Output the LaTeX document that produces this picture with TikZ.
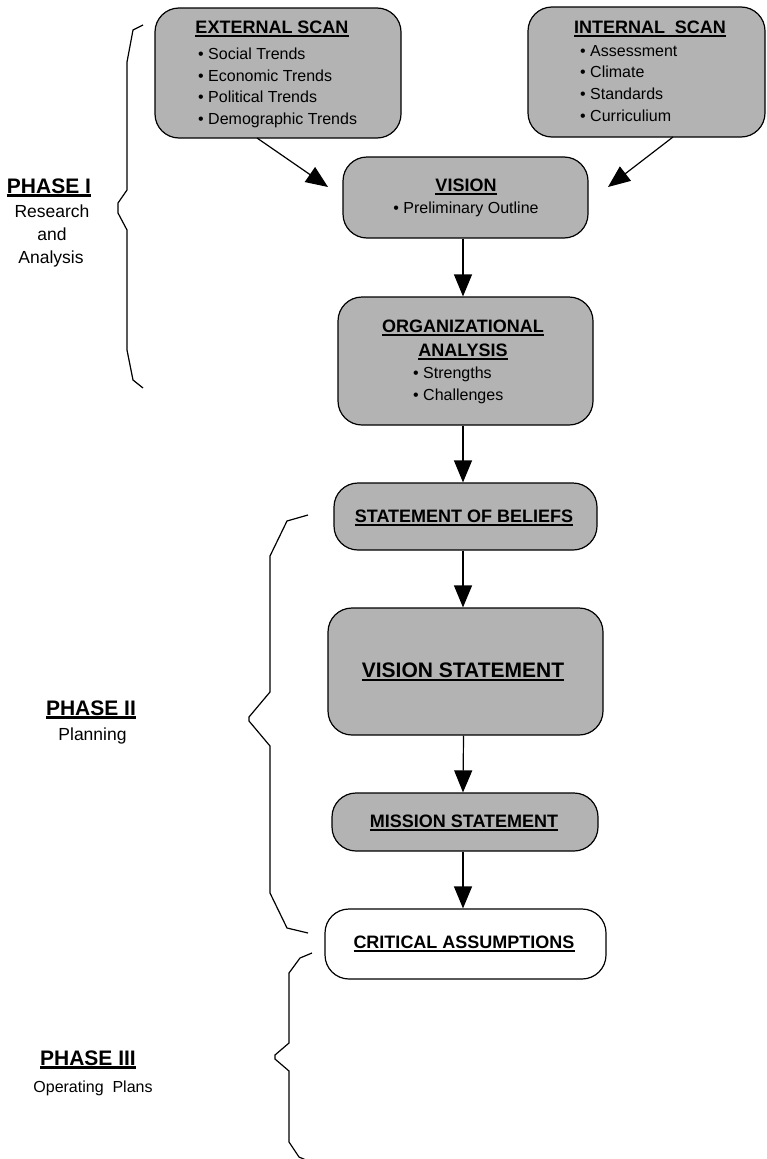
\documentclass[tikz,border=0pt]{standalone}
\usepackage{fontspec}
\setmainfont{Liberation Sans}
\usetikzlibrary{arrows.meta}
\definecolor{boxgray}{RGB}{179,179,179}
\newcommand\ulbox[2][1.7pt]{\leavevmode\setbox0=\hbox{#2}\rlap{\rule[-3.6pt]{\wd0}{#1}}\box0}
\begin{document}
\begin{tikzpicture}[x=1pt,y=-1pt,
  box/.style={draw=black, line width=1.2pt, fill=boxgray, rounded corners=24pt, inner sep=0pt},
  wbox/.style={box, fill=white},
  ttl/.style={inner sep=0pt, anchor=base, font=\bfseries\fontsize{18}{21}\selectfont},
  big/.style={inner sep=0pt, anchor=base, font=\bfseries\fontsize{21}{24}\selectfont},
  item/.style={inner sep=0pt, anchor=base west, font=\fontsize{16}{19}\selectfont},
  citem/.style={inner sep=0pt, anchor=base, font=\fontsize{16}{19}\selectfont},
  ptext/.style={inner sep=0pt, anchor=base, font=\fontsize{17.5}{20}\selectfont},
  arr/.style={line width=1.2pt, -{Triangle[length=22pt,width=18pt]}},
  brace/.style={line width=1.2pt, line join=miter}]
\useasboundingbox (0,0) rectangle (767,1159);

% boxes
\node[box, minimum width=246pt, minimum height=130pt] (ext) at (278,73) {};
\node[box, minimum width=237pt, minimum height=130pt] (int) at (646.5,72) {};
\node[box, minimum width=245pt, minimum height=81pt] (vis) at (465.5,197.5) {};
\node[box, minimum width=255pt, minimum height=128pt] (org) at (465.5,361) {};
\node[box, minimum width=263pt, minimum height=67pt] (bel) at (465.5,516.5) {};
\node[box, minimum width=275pt, minimum height=127pt] (vs) at (465.5,671.5) {};
\node[box, minimum width=266pt, minimum height=58pt] (mis) at (465,822) {};
\node[wbox, minimum width=281pt, minimum height=70pt] (crit) at (465.5,944) {};

% texts
\node[ttl] (extT) at (272,33) {\ulbox{EXTERNAL SCAN}};
\node[item] (e1) at (198,59) {• Social Trends};
\node[item] (e2) at (198,81) {• Economic Trends};
\node[item] (e3) at (198,102.7) {• Political Trends};
\node[item] (e4) at (198,124) {• Demographic Trends};

\node[ttl] (intT) at (650,33) {\ulbox{INTERNAL\ \ SCAN}};
\node[item] (i1) at (580,56) {• Assessment};
\node[item] (i2) at (580,77.5) {• Climate};
\node[item] (i3) at (580,99) {• Standards};
\node[item] (i4) at (580,121) {• Curriculium};

\node[ttl] (visT) at (466,191) {\ulbox{VISION}};
\node[citem] (v1) at (466,213) {• Preliminary Outline};

\node[ttl] (orgT1) at (463,332) {\ulbox{ORGANIZATIONAL}};
\node[ttl] (orgT2) at (463,356) {\ulbox{ANALYSIS}};
\node[item] (o1) at (413,378) {• Strengths};
\node[item] (o2) at (413,400) {• Challenges};

\node[ttl] (belT) at (464,522) {\ulbox{STATEMENT OF BELIEFS}};
\node[big] (vsT) at (463,677) {\ulbox[2pt]{VISION STATEMENT}};
\node[ttl] (misT) at (464,827) {\ulbox{MISSION STATEMENT}};
\node[ttl] (critT) at (464,948) {\ulbox{CRITICAL ASSUMPTIONS}};

% phase labels
\node[big] (p1) at (49,193) {\ulbox[2.2pt]{PHASE I}};
\node[ptext] (p1a) at (52,217) {Research};
\node[ptext] (p1b) at (52,240) {and};
\node[ptext] (p1c) at (51,263) {Analysis};

\node[big] (p2) at (91,715) {\ulbox[2.2pt]{PHASE II}};
\node[ptext] (p2a) at (92.5,740) {Planning};

\node[big] (p3) at (88,1065) {\ulbox[2.2pt]{PHASE III}};
\node[citem] (p3a) at (93,1092) {Operating\ \ Plans};

% connectors
\coordinate (extout) at (257,138);
\coordinate (visin1) at (328,187);
\coordinate (intout) at (673,137);
\coordinate (visin2) at (608,187);
\draw[arr] (extout) -- (visin1);
\draw[arr] (intout) -- (visin2);
\draw[arr] ([xshift=-2.5pt]vis.south) -- ([xshift=-2.5pt]org.north);
\draw[arr] ([xshift=-2.5pt]org.south) -- ([xshift=-2.5pt]bel.north);
\draw[arr] ([xshift=-2.5pt]bel.south) -- ([xshift=-2.5pt]vs.north);
\draw[arr] ([xshift=-2pt]vs.south) -- ([xshift=-2pt]mis.north);
\draw[arr] ([xshift=-2pt]mis.south) -- ([xshift=-2.5pt]crit.north);

% braces
\draw[brace] (143,25) -- (133,30) -- (127,62) -- (127,190) -- (118,203) -- (118,213) -- (127,230) -- (127,350) -- (133,380) -- (143,388);
\draw[brace] (308,515) -- (287,521) -- (270,556) -- (270,692) -- (249,717) -- (249,721) -- (270,746) -- (270,893) -- (287,928) -- (308,933);
\draw[brace] (312,953) -- (300,958) -- (289,973) -- (289,1043) -- (275,1055) -- (275,1059) -- (289,1071) -- (289,1142) -- (299,1157) -- (306,1160);
\end{tikzpicture}
\end{document}
